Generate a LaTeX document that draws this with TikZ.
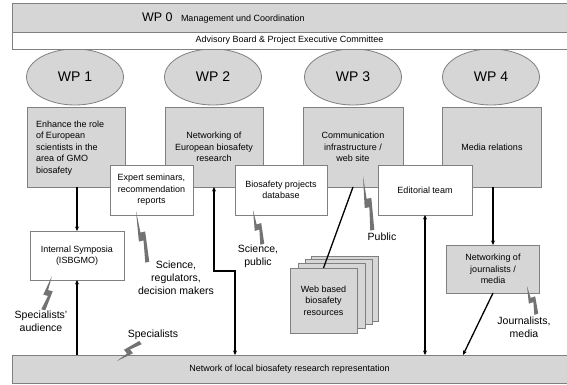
\documentclass[tikz,border=0pt]{standalone}
\usepackage{fontspec}
\setmainfont{Liberation Sans}
\usetikzlibrary{shapes.geometric,calc,arrows.meta}
\definecolor{boxgray}{HTML}{D6D6D6}
\definecolor{edgegray}{HTML}{808080}
\definecolor{boltc}{HTML}{737373}
\newcommand\boxfont{\fontsize{9}{11.5}\selectfont}
\newcommand\mybolt[2]{\fill[boltc] ($(#1)!1.3pt!-90:(#2)$) -- ($(#1)!2.8pt!90:(#2)$) -- ($(#1)!0.42!(#2)!0.6pt!-90:(#2)$) -- ($(#1)!0.42!(#2)!4.2pt!90:(#2)$) -- (#2) -- ($(#1)!0.58!(#2)!0.6pt!90:(#2)$) -- ($(#1)!0.58!(#2)!4.2pt!-90:(#2)$) -- cycle;}
\tikzset{
  every node/.style={inner sep=0pt, outer sep=0pt},
  graybox/.style={draw=edgegray, fill=boxgray, line width=0.9pt, align=center, font=\boxfont},
  whitebox/.style={draw=edgegray, fill=white, line width=0.9pt, align=center, font=\boxfont},
  wpell/.style={ellipse, draw=edgegray, fill=boxgray, line width=0.8pt, minimum width=97pt, minimum height=56pt, font=\fontsize{14}{16}\selectfont},
  lbl/.style={align=center, font=\fontsize{10.5}{13}\selectfont},
  conn/.style={line width=1.3pt, black},
  tipend/.style={-{Stealth[length=4.5pt,width=4pt]}},
  bothend/.style={{Stealth[length=4.5pt,width=4pt]}-{Stealth[length=4.5pt,width=4pt]}}
}
\begin{document}
\begin{tikzpicture}[x=1pt,y=-1pt]
\fill[white] (0,0) rectangle (567,385);
\useasboundingbox (0,0) rectangle (567,385);

% ellipses
\node[wpell] (e1) at (75,77) {WP 1};
\node[wpell] (e2) at (213,77) {WP 2};
\node[wpell] (e3) at (353,77) {WP 3};
\node[wpell] (e4) at (491,77) {WP 4};

% top box
\node[graybox, minimum width=555pt, minimum height=29pt, anchor=north west] (wp0) at (12,3) {};
\node[whitebox, minimum width=555pt, minimum height=17pt, anchor=north west] (adv) at (12,32) {Advisory Board \& Project Executive Committee};
\node[font=\fontsize{12.5}{14}\selectfont, anchor=base west] (wp0t) at (142,21.5) {WP 0};
\node[font=\boxfont, anchor=base west] (wp0m) at (181,21.5) {Management und Coordination};

% WP boxes
\node[graybox, minimum width=98pt, minimum height=80pt] (wp1) at (76,147) {};
\node[font=\boxfont, align=left, anchor=west] (wp1t) at (36,148) {Enhance the role\\of European\\scientists in the\\area of GMO\\biosafety};
\node[graybox, minimum width=98pt, minimum height=80pt] (wp2) at (214,147) {Networking of\\European biosafety\\research};
\node[graybox, minimum width=100pt, minimum height=80pt] (wp3) at (353,147) {Communication\\infrastructure /\\web site};
\node[graybox, minimum width=99pt, minimum height=80pt] (wp4) at (492,147) {Media relations};

% white boxes
\node[whitebox, minimum width=83pt, minimum height=50pt] (exp) at (151.5,190) {Expert seminars,\\recommendation\\reports};
\node[whitebox, minimum width=92pt, minimum height=50pt] (db) at (281,190) {Biosafety projects\\database};
\node[whitebox, minimum width=94pt, minimum height=50pt] (ed) at (425,190) {Editorial team};
\node[whitebox, minimum width=94pt, minimum height=49pt] (sym) at (77,255.5) {Internal Symposia\\(ISBGMO)};
\node[graybox, minimum width=93pt, minimum height=48pt] (jn) at (493,269) {Networking of\\journalists /\\media};

% web stack
\node[graybox, minimum width=67pt, minimum height=65pt] (web3) at (344.5,288.5) {};
\node[graybox, minimum width=67pt, minimum height=65pt] (web2) at (338.5,291.5) {};
\node[graybox, minimum width=67pt, minimum height=65pt] (web1) at (331.5,295.5) {};
\node[graybox, minimum width=67pt, minimum height=65pt] (web) at (323.5,300.5) {Web based\\biosafety\\resources};

% bottom bar
\node[graybox, minimum width=555pt, minimum height=28pt] (bar) at (289.5,369) {Network of local biosafety research representation};

% black connectors
\draw[conn, tipend] (sym.north |- wp1.south) -- (sym.north);
\draw[conn, tipend] (sym.south |- bar.north) -- (sym.south);
\coordinate (k2) at (235,271);
\draw[conn, bothend] (wp2.south) |- (k2) -- (k2 |- bar.north);
\draw[conn] (web.north) -- (wp3.south);
\draw[conn, bothend] (ed.south) -- (ed.south |- bar.north);
\draw[conn, tipend] (jn.north |- wp4.south) -- (jn.north);
\coordinate (jb) at (463,355);
\draw[conn, tipend] (jn.south) -- (jb);

% lightning bolts
\coordinate (ba1) at (44,310); \coordinate (ba2) at (52,276);
\coordinate (bb1) at (148,262); \coordinate (bb2) at (136,211);
\coordinate (bc1) at (263,244); \coordinate (bc2) at (253,210);
\coordinate (bd1) at (373,230); \coordinate (bd2) at (363,176);
\coordinate (be1) at (537,314); \coordinate (be2) at (527,286);
\coordinate (bf1) at (140,342); \coordinate (bf2) at (117,361);
\mybolt{ba1}{ba2}
\mybolt{bb1}{bb2}
\mybolt{bc1}{bc2}
\mybolt{bd1}{bd2}
\mybolt{be1}{be2}
\mybolt{bf1}{bf2}

% labels
\node[lbl] (la) at (41,321) {Specialists'\\audience};
\node[lbl] (lb) at (176,278) {Science,\\regulators,\\decision makers};
\node[lbl] (lc) at (258,256.5) {Science,\\public};
\node[lbl] (ld) at (382,237) {Public};
\node[lbl] (le) at (524,327) {Journalists,\\media};
\node[lbl] (lf) at (153,335) {Specialists};
\end{tikzpicture}
\end{document}
